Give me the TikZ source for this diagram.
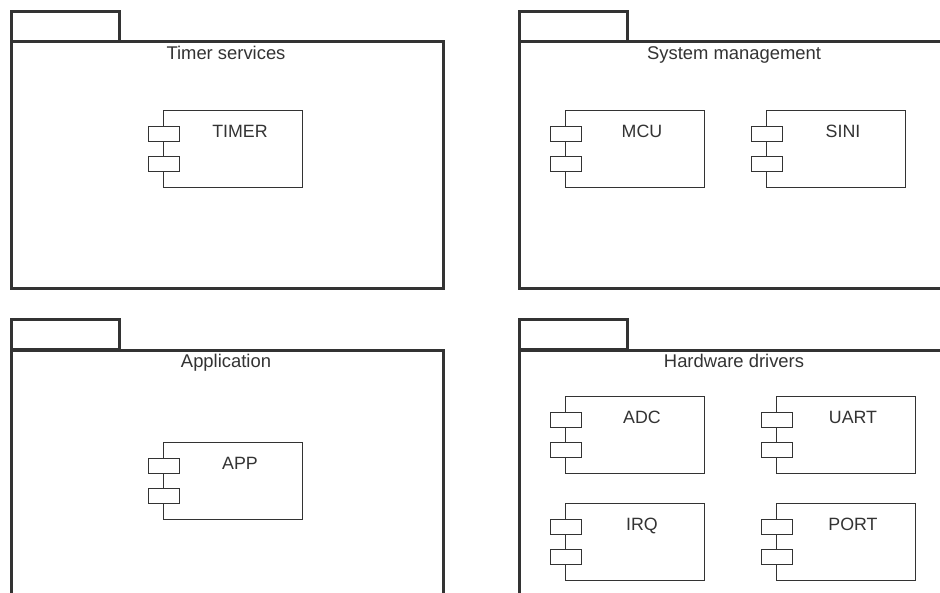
\documentclass[tikz,border=0pt]{standalone}
\usepackage{fontspec}
\setmainfont{Liberation Sans}
\definecolor{ink}{HTML}{333333}
\begin{document}
\begin{tikzpicture}[x=1pt,y=-1pt,
  pkgline/.style={draw=ink, line width=2.6pt, rectangle, inner sep=0pt, anchor=north west},
  pkgtab/.style={pkgline, minimum width=108pt, minimum height=30pt},
  pkgbody/.style={pkgline, minimum width=432pt, minimum height=247pt},
  pkglabel/.style={text=ink, anchor=base, inner sep=0pt, font=\fontsize{18.4}{22}\selectfont},
  compbox/.style={draw=ink, line width=1.3pt, rectangle, inner sep=0pt, anchor=north west, minimum width=139pt, minimum height=77pt},
  compport/.style={draw=ink, fill=white, line width=1.3pt, rectangle, inner sep=0pt, anchor=north west, minimum width=31pt, minimum height=15pt},
  complabel/.style={text=ink, anchor=base, inner sep=0pt, font=\fontsize{17.8}{21}\selectfont}]
\useasboundingbox (0,0) rectangle (940,592);
\clip (0,0) rectangle (940,592);
\fill[white] (0,0) rectangle (940,592);
\newcommand{\mkcomp}[4]{%
  \node[compbox] (#1) at (#2,#3) {};
  \node[compport] (#1-p1) at ({#2-15},{#3+16}) {};
  \node[compport] (#1-p2) at ({#2-15},{#3+46}) {};
  \node[complabel] (#1-l) at ({#2+77},{#3+27.5}) {#4};}
% Timer services
\node[pkgtab] (tab1) at (10,10) {};
\node[pkgbody] (pkg1) at (10,40) {};
\node[pkglabel] (lab1) at (226,59) {Timer services};
% System management
\node[pkgtab] (tab2) at (518,10) {};
\node[pkgbody] (pkg2) at (518,40) {};
\node[pkglabel] (lab2) at (734,59) {System management};
% Application
\node[pkgtab] (tab3) at (10,318) {};
\node[pkgbody] (pkg3) at (10,349) {};
\node[pkglabel] (lab3) at (226,367) {Application};
% Hardware drivers
\node[pkgtab] (tab4) at (518,318) {};
\node[pkgbody] (pkg4) at (518,349) {};
\node[pkglabel] (lab4) at (734,367) {Hardware drivers};
% components
\mkcomp{timer}{163}{110}{TIMER}
\mkcomp{mcu}{565}{110}{MCU}
\mkcomp{sini}{766}{110}{SINI}
\mkcomp{app}{163}{442}{APP}
\mkcomp{adc}{565}{396}{ADC}
\mkcomp{uart}{776}{396}{UART}
\mkcomp{irq}{565}{503}{IRQ}
\mkcomp{port}{776}{503}{PORT}
\end{tikzpicture}
\end{document}
